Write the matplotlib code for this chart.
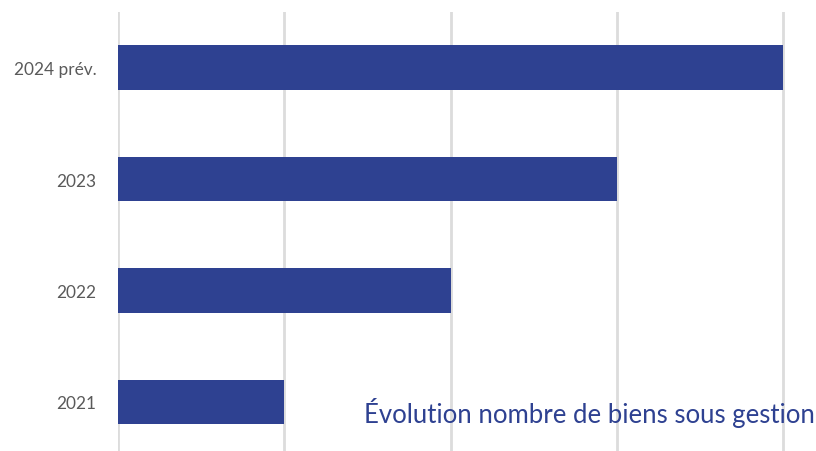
import matplotlib
matplotlib.use("Agg")
import matplotlib.pyplot as plt

categories = ["2021", "2022", "2023", "2024 prév."]
values = [1, 2, 3, 4]
title = "Évolution nombre de biens sous gestion"

bar_color = "#2E4191"
W, H = 816, 452
fig = plt.figure(figsize=(W/100, H/100), dpi=100)
left = 118 / W
ax = fig.add_axes([left, 0, 1 - left, 1 - 13 / H])
ypos = list(range(len(categories)))
ax.barh(ypos, values, height=0.4, color=bar_color, zorder=3)
ax.set_xlim(0, (W - 118) / 166.25)
ax.set_ylim(-0.44, 3.50)
ax.set_xticks([0, 1, 2, 3, 4])
ax.set_xticklabels([])
ax.tick_params(axis="x", length=0)
ax.grid(axis="x", color="#DCDCDC", linewidth=2, zorder=0)
ax.set_yticks(ypos)
ax.set_yticklabels(categories, fontfamily="Lato",
                   fontsize=12.4, color="#5A5A5A")
ax.tick_params(axis="y", length=0, pad=15.5)
for s in ax.spines.values():
    s.set_visible(False)
fig.text(815 / W, 1 - 423 / H, title, ha="right", va="baseline",
         fontfamily="Lato", fontsize=18.5, color="#2E4191")
fig.savefig("out.png", dpi=100)
